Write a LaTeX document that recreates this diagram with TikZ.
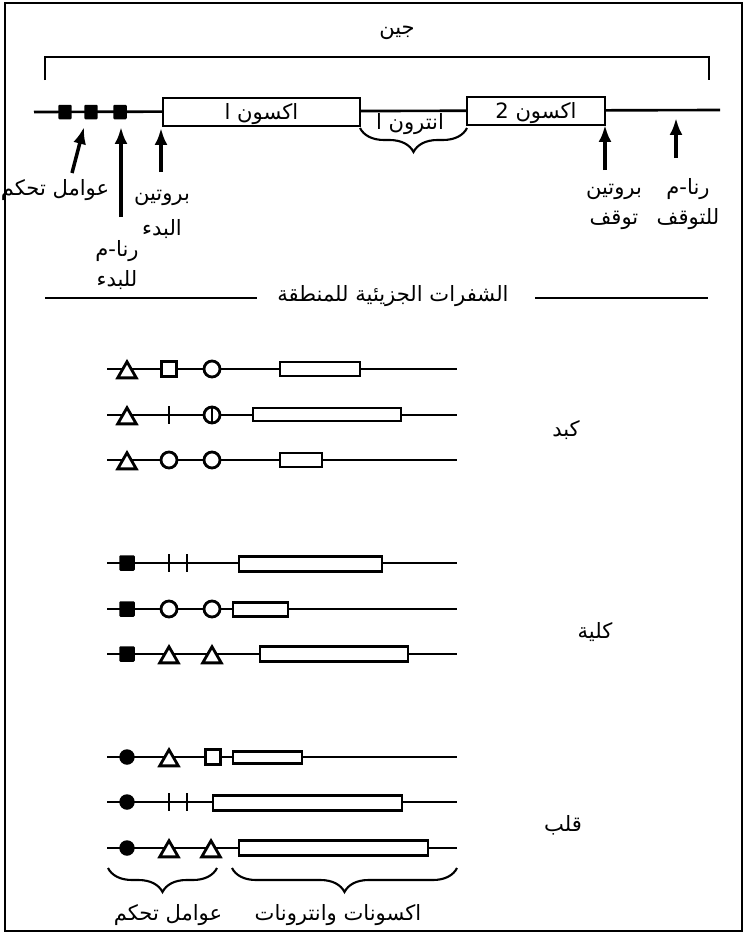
\documentclass[tikz,border=0pt]{standalone}
\usepackage{fontspec}
\TeXXeTstate=1
\newfontfamily\arabicfont[Script=Arabic]{DejaVu Sans}
\usetikzlibrary{shapes.geometric, decorations.pathreplacing, arrows.meta}

\tikzset{
  gl/.style={line width=1.5pt},
  rl/.style={line width=1.2pt},
  arr/.style={line width=2pt,-{Latex[length=3.4mm,width=2.6mm]}},
  lbl/.style={font=\arabicfont\fontsize{12}{17}\selectfont, align=center, inner sep=0pt},
  exon/.style={draw, line width=1.5pt, fill=white, inner sep=0pt, minimum height=5.6mm},
  box/.style={draw, line width=1.7pt, fill=white},
  fsq/.style={fill, rounded corners=0.6pt, minimum width=2.7mm, minimum height=2.9mm, inner sep=0pt},
  bsq/.style={fill, rounded corners=0.6pt, minimum size=3.1mm, inner sep=0pt},
  osq/.style={draw, line width=1.6pt, fill=white, minimum size=3mm, inner sep=0pt},
  ocirc/.style={circle, draw, line width=1.6pt, fill=white, minimum size=3.2mm, inner sep=0pt},
  fcirc/.style={circle, fill, minimum size=3.1mm, inner sep=0pt},
  tri/.style={regular polygon, regular polygon sides=3, draw, line width=1.6pt, fill=white, minimum size=4.3mm, inner sep=0pt, yshift=-0.7mm},
  brc/.style={decorate, decoration={brace, mirror, amplitude=4.8mm}, line width=1.2pt},
}

\begin{document}
\begin{tikzpicture}[x=0.02cm, y=-0.02cm]
	\useasboundingbox (0,0) rectangle (745,933);
	\draw[line width=1.5pt] (5,3) rectangle (742,931);

	% gene
	\node[lbl] (gene) at (397,33) {\beginR جين\endR};
	\draw[line width=1.3pt] (45,80) -- (45,57) -- (709,57) -- (709,80);
	\draw[gl] (34,112) -- (720,110);
	\node[fsq] (s1) at (65,112) {};
	\node[fsq] (s2) at (91,112) {};
	\node[fsq] (s3) at (120,112) {};
	\node[exon, minimum width=39.4mm] (ex1) at (261.5,112) {};
	\node[lbl] at ([yshift=-0.5mm]ex1.center) {\beginR اكسون ا\endR};
	\node[exon, minimum width=27.6mm] (ex2) at (536,111) {};
	\node[lbl] at ([yshift=-0.5mm]ex2.center) {\beginR اكسون 2\endR};
	\draw[brc] (360,128) -- (467,128);
	\node[lbl] (intr) at (410,124) {\beginR انترون ا\endR};

	% arrows
	\coordinate (a1) at (72,173);   \coordinate (t1) at (84,127);
	\coordinate (a2) at (121,217);  \coordinate (t2) at (121,127);
	\coordinate (a3) at (161,172);  \coordinate (t3) at (161,128);
	\coordinate (a4) at (605,170);  \coordinate (t4) at (605,125);
	\coordinate (a5) at (676,158);  \coordinate (t5) at (676,118);
	\draw[arr] (a1) -- (t1);
	\draw[arr] (a2) -- (t2);
	\draw[arr] (a3) -- (t3);
	\draw[arr] (a4) -- (t4);
	\draw[arr] (a5) -- (t5);
	\node[lbl] (ctl) at (55,190) {\beginR عوامل تحكم\endR};
	\node[lbl] (mst) at (117,265) {\beginR رنا-م\endR\\\beginR للبدء\endR};
	\node[lbl] (pst) at (162,214) {\beginR بروتين\endR\\[3pt]\beginR البدء\endR};
	\node[lbl] (psp) at (614,207) {\beginR بروتين\endR\\\beginR توقف\endR};
	\node[lbl] (msp) at (688,204) {\beginR رنا-م\endR\\\beginR للتوقف\endR};

	% separator
	\node[lbl] (reg) at (393,296) {\beginR الشفرات الجزيئية للمنطقة\endR};
	\draw[gl] (45,298) -- (257,298);
	\draw[gl] (535,298) -- (708,298);

	% liver
	\draw[rl] (107,369) -- (457,369);
	\node[tri] (r1a) at (127,369) {};
	\node[osq] (r1b) at (169,369) {};
	\node[ocirc] (r1c) at (212,369) {};
	\draw[box] (280,362) rectangle (360,376);
	\draw[rl] (107,415) -- (457,415);
	\node[tri] (r2a) at (127,415) {};
	\draw[rl] (169,406) -- (169,424);
	\node[ocirc] (r2c) at (212,415) {};
	\draw[line width=1.6pt] (r2c.north) -- (r2c.south);
	\draw[box] (253,408) rectangle (401,421);
	\draw[rl] (107,460) -- (457,460);
	\node[tri] (r3a) at (127,460) {};
	\node[ocirc] (r3b) at (169,460) {};
	\node[ocirc] (r3c) at (212,460) {};
	\draw[box] (280,453) rectangle (322,467);
	\node[lbl] (liv) at (566,430) {\beginR كبد\endR};

	% kidney
	\draw[rl] (107,563) -- (457,563);
	\node[bsq] (r4a) at (127,563) {};
	\draw[rl] (169,554) -- (169,572);
	\draw[rl] (187,554) -- (187,572);
	\draw[box] (239,556) rectangle (382,571);
	\draw[rl] (107,609) -- (457,609);
	\node[bsq] (r5a) at (127,609) {};
	\node[ocirc] (r5b) at (169,609) {};
	\node[ocirc] (r5c) at (212,609) {};
	\draw[box] (233,602) rectangle (288,616);
	\draw[rl] (107,654) -- (457,654);
	\node[bsq] (r6a) at (127,654) {};
	\node[tri] (r6b) at (169,654) {};
	\node[tri] (r6c) at (212,654) {};
	\draw[box] (260,646) rectangle (408,661);
	\node[lbl] (kid) at (595,632) {\beginR كلية\endR};

	% heart
	\draw[rl] (107,757) -- (457,757);
	\node[fcirc] (r7a) at (127,757) {};
	\node[tri] (r7b) at (169,757) {};
	\node[osq] (r7c) at (213,757) {};
	\draw[box] (233,751) rectangle (302,763);
	\draw[rl] (107,802) -- (457,802);
	\node[fcirc] (r8a) at (127,802) {};
	\draw[rl] (169,793) -- (169,811);
	\draw[rl] (187,793) -- (187,811);
	\draw[box] (213,795) rectangle (402,810);
	\draw[rl] (107,848) -- (457,848);
	\node[fcirc] (r9a) at (127,848) {};
	\node[tri] (r9b) at (169,848) {};
	\node[tri] (r9c) at (211,848) {};
	\draw[box] (239,840) rectangle (428,855);
	\node[lbl] (hrt) at (563,825) {\beginR قلب\endR};

	% braces
	\draw[brc] (108,868) -- (217,868);
	\draw[brc] (232,868) -- (457,868);
	\node[lbl] (ctl2) at (168,915) {\beginR عوامل تحكم\endR};
	\node[lbl] (exin) at (338,915) {\beginR اكسونات وانترونات\endR};
\end{tikzpicture}
\end{document}
